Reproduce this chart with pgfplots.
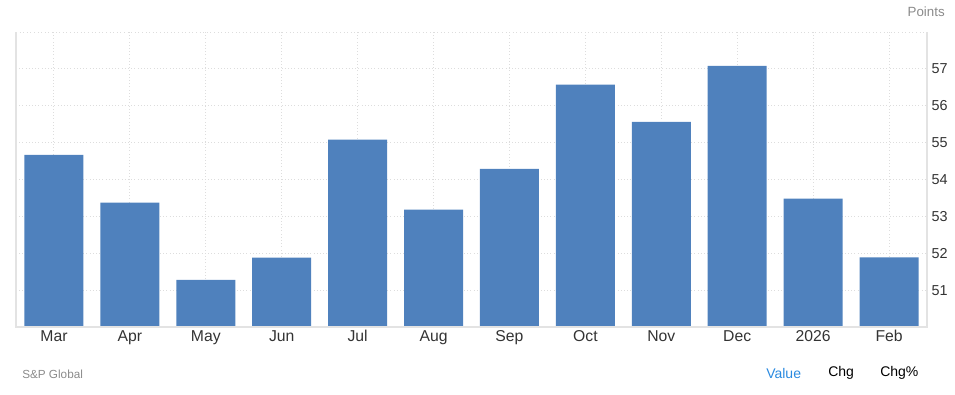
\documentclass[border=0pt]{standalone}
\usepackage{fontspec}
\setmainfont{Liberation Sans}
\usepackage{pgfplots}
\pgfplotsset{compat=1.18}
\definecolor{barblue}{HTML}{4F81BD}
\definecolor{gridc}{HTML}{DDDDDD}
\definecolor{axc}{HTML}{E3E3E3}
\definecolor{tickc}{HTML}{333333}
\definecolor{greyt}{HTML}{8A8A8A}
\definecolor{linkblue}{HTML}{2A8AE0}
\begin{document}
\begin{tikzpicture}
\path[use as bounding box] (0pt,0pt) rectangle (716.25pt,296.25pt);
\begin{axis}[
  at={(12pt,51pt)}, anchor=south west,
  scale only axis, width=683.25pt, height=221.25pt,
  xmin=-0.5, xmax=11.5, ymin=50, ymax=58,
  ybar, bar width=44.25pt, bar shift=0pt,
  xtick={0,...,11},
  xticklabels={Mar,Apr,May,Jun,Jul,Aug,Sep,Oct,Nov,Dec,2026,Feb},
  ytick={51,...,57},
  yticklabel pos=right,
  major tick length=0pt,
  axis line style={draw=none},
  xmajorgrids, ymajorgrids,
  major grid style={gridc, dotted, line width=0.7pt},
  tick label style={text=tickc},
  x tick label style={font=\fontsize{11.8}{13}\selectfont, yshift=1pt},
  y tick label style={font=\fontsize{10.8}{12}\selectfont, anchor=west, xshift=0pt},
  /pgf/number format/assume math mode=true,
  clip=false,
]
\addplot[fill=barblue, draw=none] coordinates {
 (0,54.67) (1,53.37) (2,51.28) (3,51.88) (4,55.08) (5,53.18)
 (6,54.29) (7,56.57) (8,55.56) (9,57.08) (10,53.48) (11,51.89)};
\draw[gridc, dotted, line width=0.7pt] (rel axis cs:0,1) -- (rel axis cs:1,1);
\draw[axc, line width=0.8pt] (rel axis cs:0,1) -- (rel axis cs:0,0) -- (rel axis cs:1,0) -- (rel axis cs:1,1);
\end{axis}
\node[anchor=east, text=greyt, font=\fontsize{10}{11}\selectfont, inner sep=0pt] at (708.75pt,287.25pt) {Points};
\node[anchor=west, text=greyt, font=\fontsize{8.8}{10}\selectfont, inner sep=0pt] at (16.5pt,15.75pt) {S\&P Global};
\node[anchor=west, text=linkblue, font=\fontsize{10.5}{12}\selectfont, inner sep=0pt] at (574.5pt,16.5pt) {Value};
\node[anchor=west, text=black, font=\fontsize{10.5}{12}\selectfont, inner sep=0pt] at (621pt,16.5pt) {Chg};
\node[anchor=west, text=black, font=\fontsize{10.5}{12}\selectfont, inner sep=0pt] at (660pt,16.5pt) {Chg\%};
\end{tikzpicture}
\end{document}
